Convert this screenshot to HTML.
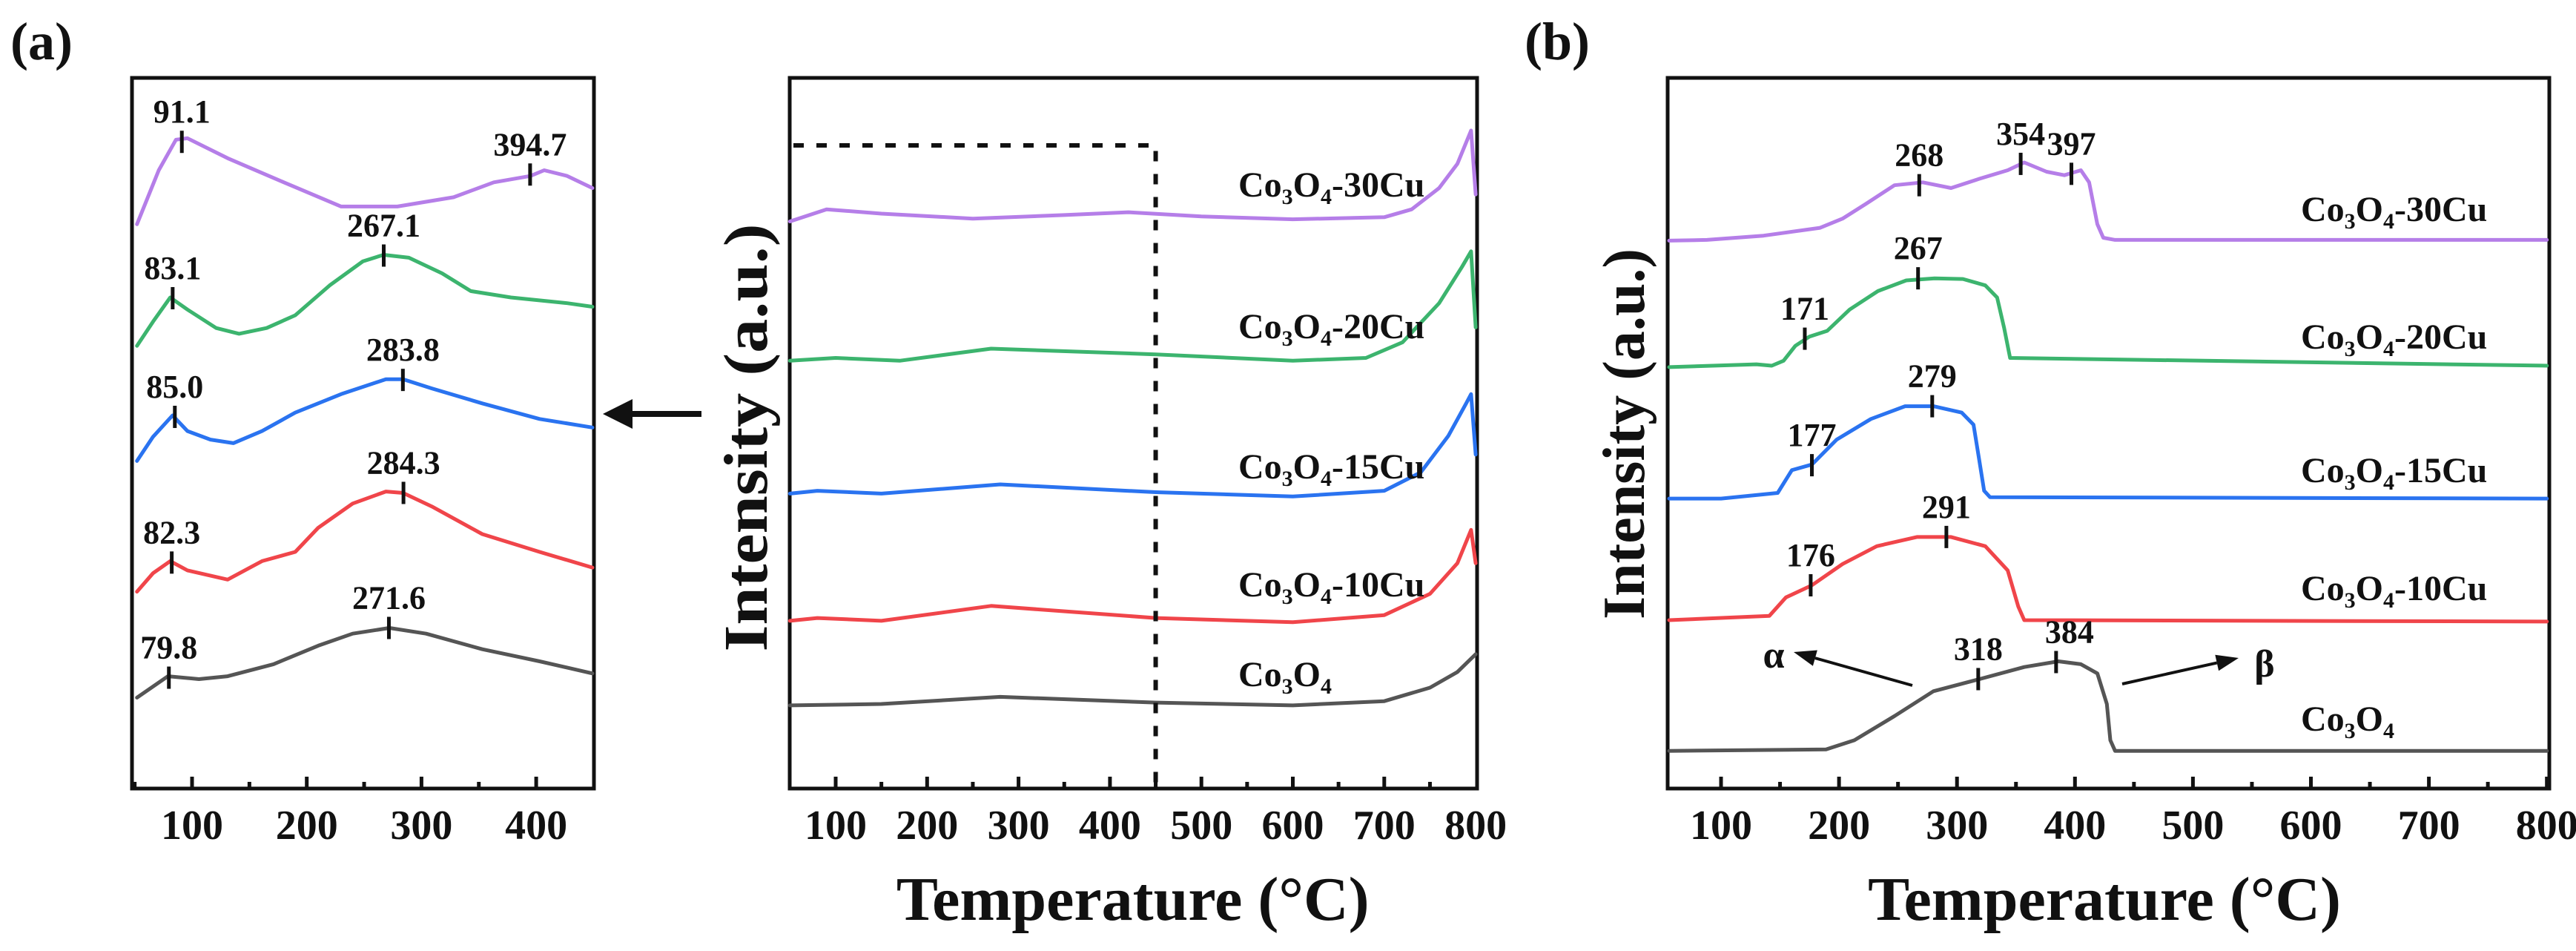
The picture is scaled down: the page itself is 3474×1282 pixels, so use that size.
<!DOCTYPE html>
<html><head><meta charset="utf-8"><style>
html,body{margin:0;padding:0;background:#fff;}
svg{display:block;font-family:"Liberation Serif",serif;font-weight:bold;}
</style></head><body>
<svg id="chart" width="3474" height="1282" viewBox="0 0 3474 1282" xmlns="http://www.w3.org/2000/svg"></svg>
<script>
// ---------- data ----------
const seriesNames = ["Co3O4-30Cu","Co3O4-20Cu","Co3O4-15Cu","Co3O4-10Cu","Co3O4"];
const seriesColors = ["#b57ee8","#3cb46e","#2a73f0","#f0454a","#555555"];
// inset (a-left) 50-450 °C
const insetT = [
 [52,71,86,96,131,180,230,279,328,363,395,407,427,449],
 [52,66,81,96,121,141,165,190,220,249,267,289,318,343,378,427,449],
 [52,66,83,96,116,136,161,190,230,269,284,309,353,403,449],
 [52,66,81,96,131,161,190,210,240,269,284,309,353,403,449],
 [52,79,106,131,171,210,240,272,304,353,403,449]];
const insetI = [
 [79.4,87.0,91.3,91.5,88.7,85.3,81.9,81.9,83.2,85.3,86.2,87.0,86.2,84.5],
 [62.3,65.7,69.1,67.4,64.8,64.0,64.8,66.6,70.8,74.2,75.1,74.7,72.5,70.0,69.1,68.3,67.8],
 [46.1,49.5,52.5,50.3,49.1,48.6,50.3,52.9,55.5,57.6,57.6,56.3,54.2,52.0,50.8],
 [27.7,30.3,32.0,30.7,29.4,32.0,33.3,36.7,40.1,41.8,41.6,39.7,35.8,33.3,31.1],
 [12.8,15.8,15.4,15.8,17.5,20.1,21.8,22.6,21.8,19.6,17.9,16.2]];
const insetPeaks = [[91.1,394.7],[83.1,267.1],[85.0,283.8],[82.3,284.3],[79.8,271.6]];
const insetPeakI = [[91.0,86.4],[69.0,75.0],[52.3,57.5],[31.8,41.6],[15.6,22.6]];
// main (a) 50-800 °C
const mainT = [
 [50,90,150,250,350,420,500,600,700,730,760,780,795,800],
 [50,100,170,270,450,600,680,720,760,785,795,800],
 [50,80,150,280,450,600,700,740,770,790,795,800],
 [50,80,150,270,450,600,700,750,780,795,800],
 [50,150,280,450,600,700,750,780,800]];
const mainI = [
 [79.8,81.5,80.9,80.2,80.7,81.1,80.5,80.1,80.4,81.5,84.5,87.9,92.6,83.6],
 [60.2,60.6,60.2,61.9,61.1,60.2,60.6,62.8,68.3,73.4,75.6,64.9],
 [41.5,41.9,41.5,42.8,41.7,41.1,41.9,44.5,49.6,54.3,55.5,47.0],
 [23.6,24.0,23.6,25.7,24.0,23.4,24.4,27.4,31.7,36.4,31.7],
 [11.7,11.9,12.9,12.1,11.7,12.3,14.2,16.4,18.9]];
// panel (b) 55-800 °C
const bT = [
 [56,88,136,184,203,223,247,271,295,319,343,357,376,391,405,412,419,424,434,800],
 [56,130,143,153,163,175,190,209,233,257,281,305,324,334,340,345,800],
 [56,100,148,160,177,198,227,256,280,304,314,319,323,328,800],
 [56,141,155,177,203,232,266,295,324,343,352,357,800],
 [56,189,213,247,280,319,357,386,405,419,427,430,434,800]];
const bI = [
 [77.1,77.2,77.8,78.9,80.2,82.3,84.9,85.3,84.5,85.8,87.0,88.1,86.8,86.3,87.0,85.3,79.4,77.5,77.2,77.2],
 [59.3,59.7,59.5,60.2,62.3,63.6,64.4,67.4,70.0,71.5,71.8,71.7,70.8,69.1,64.8,60.6,59.5,59.3],
 [40.8,40.8,41.6,44.8,45.6,49.1,52.0,53.8,53.8,52.9,51.2,46.1,41.9,41.0,40.8],
 [23.7,24.3,26.9,28.6,31.6,34.1,35.4,35.4,34.1,30.7,25.6,23.7,23.5],
 [5.3,5.5,6.8,10.2,13.7,15.4,17.1,17.9,17.5,16.2,11.9,6.8,5.3,5.3]];
const bPeaks = [[268,354,397],[171,267],[177,279],[176,291],[318,384]];
const bPeakI = [[84.9,87.9,86.5],[63.3,71.8],[45.5,53.8],[28.6,35.4],[15.4,17.8]];
const insetTicks = [100,200,300,400];
const mainTicks = [100,200,300,400,500,600,700,800];

// ---------- helpers ----------
const NS="http://www.w3.org/2000/svg";
const svg=document.getElementById('chart');
function mk(tag,attrs,parent){const e=document.createElementNS(NS,tag);for(const k in attrs)e.setAttribute(k,attrs[k]);(parent||svg).appendChild(e);return e;}
function scales(p){return {x:t=>p.x0+(t-p.t0)*p.k, y:i=>p.yb-(p.yb-p.yt)*i/100};}
function frame(p,name){
  const r=mk('rect',{x:p.fx0,y:p.yt,width:p.fx1-p.fx0,height:p.yb-p.yt,fill:'none',stroke:'#111','stroke-width':5});
  
  
}
function ticks(p,s,major,minorStep,tmin,tmax,name){
  const g=mk('g',{});
  
  
  for(let t=Math.ceil(tmin/minorStep)*minorStep;t<=tmax;t+=minorStep){
    const isMaj=major.includes(t);const x=s.x(t);
    if(x<=p.fx0+3||x>=p.fx1-3) continue;
    mk('line',{x1:x,x2:x,y1:p.yb,y2:p.yb-(isMaj?16:9),stroke:'#111','stroke-width':5},g);
  }
  major.forEach(t=>{
    const tx=mk('text',{x:s.x(t),y:p.yb+68,'font-size':56,'text-anchor':'middle',fill:'#111'},g);
    tx.textContent=t;
    
    
  });
}
function curve(s,T,I,color,name){
  const d=T.map((t,i)=>(i?'L':'M')+s.x(t).toFixed(1)+','+s.y(I[i]).toFixed(1)).join(' ');
  const pth=mk('path',{d:d,fill:'none',stroke:color,'stroke-width':5,'stroke-linejoin':'round','stroke-linecap':'round'});
  
  
}
function peak(s,t,i,label,name,dx){
  const x=s.x(t),y=s.y(i);
  const l=mk('line',{x1:x,x2:x,y1:y-15,y2:y+15,stroke:'#111','stroke-width':5});
  
  
  const tx=mk('text',{x:x+(dx||0),y:y-26,'font-size':44,'text-anchor':'middle',fill:'#111'});
  tx.textContent=label;
  
  
}
function seriesLabel(x,y,idx,name){
  const tx=mk('text',{x:x,y:y,'font-size':48,fill:'#111'});
  
  
  const parts=seriesNames[idx].split('-');
  tx.innerHTML='Co<tspan font-size="30" dy="10">3</tspan><tspan dy="-10">O</tspan><tspan font-size="30" dy="10">4</tspan>'+(parts[1]?'<tspan dy="-10">-'+parts[1]+'</tspan>':'');
}

// ---------- inset ----------
const pI={x0:259,t0:100,k:1.547,yb:1063,yt:105,fx0:178,fx1:801};
const sI=scales(pI);
frame(pI,'inset');
ticks(pI,sI,insetTicks,50,50,450,'inset');
insetT.forEach((T,k)=>curve(sI,T,insetI[k],seriesColors[k],'inset-curve-'+k));
insetPeaks.forEach((arr,k)=>arr.forEach((t,j)=>peak(sI,t,insetPeakI[k][j],t.toFixed(1),'inset-peak-'+k+'-'+j,0)));

// ---------- main (a) ----------
const pA={x0:1127,t0:100,k:1.233,yb:1063,yt:105,fx0:1065,fx1:1992};
const sA=scales(pA);
frame(pA,'main-a');
ticks(pA,sA,mainTicks,50,50,800,'main-a');
mainT.forEach((T,k)=>curve(sA,T,mainI[k],seriesColors[k],'main-curve-'+k));
const dz=mk('path',{d:`M${pA.fx0+5},196 L${sA.x(450)},196 L${sA.x(450)},${pA.yb}`,fill:'none',stroke:'#111','stroke-width':6,'stroke-dasharray':'14,17'});


[[265,0],[456,1],[645,2],[804,3],[925,4]].forEach(([y,k])=>seriesLabel(1670,y,k,'main-label-'+k));

// ---------- panel (b) ----------
const pB={x0:2321,t0:100,k:1.591,yb:1063,yt:105,fx0:2249,fx1:3438};
const sB=scales(pB);
frame(pB,'panel-b');
ticks(pB,sB,mainTicks,50,55,800,'panel-b');
bT.forEach((T,k)=>curve(sB,T,bI[k],seriesColors[k],'b-curve-'+k));
bPeaks.forEach((arr,k)=>arr.forEach((t,j)=>peak(sB,t,bPeakI[k][j],String(t),'b-peak-'+k+'-'+j,(k==4&&j==1?18:0))));
[[298,0],[470,1],[650,2],[809,3],[985,4]].forEach(([y,k])=>seriesLabel(3103,y,k,'b-label-'+k));

// ---------- annotations ----------
function arrow(x1,y1,x2,y2,name,w,hl,hw){
  const g=mk('g',{});
  
  
  const ang=Math.atan2(y2-y1,x2-x1),c=Math.cos(ang),s=Math.sin(ang);
  const bx=x2-hl*c,by=y2-hl*s;
  mk('line',{x1:x1,y1:y1,x2:bx,y2:by,stroke:'#111','stroke-width':w},g);
  mk('polygon',{points:`${x2},${y2} ${bx-hw*s},${by+hw*c} ${bx+hw*s},${by-hw*c}`,fill:'#111'},g);
}
arrow(946,558,813,558,'zoom-arrow',8,40,20);
arrow(2579,924,2419,879,'alpha-arrow',4,30,11);
arrow(2862,922,3019,887,'beta-arrow',4,30,11);
function txt(x,y,s,fs,name,extra){
  const t=mk('text',Object.assign({x:x,y:y,'font-size':fs,fill:'#111'},extra||{}));
  t.textContent=s;
  
  
  return t;
}
txt(2392,900,'α',52,'alpha-label',{'text-anchor':'middle'});
txt(3054,912,'β',52,'beta-label',{'text-anchor':'middle'});
txt(14,80,'(a)',72,'panel-a-label');
txt(2056,80,'(b)',72,'panel-b-label');
txt(sA.x(425),1240,'Temperature (°C)',84,'main-a-x-title',{'text-anchor':'middle'});
txt(sB.x(425),1240,'Temperature (°C)',84,'panel-b-x-title',{'text-anchor':'middle'});
txt(0,0,'Intensity (a.u.)',84,'main-a-y-title',{'text-anchor':'middle',transform:'translate(1034,590) rotate(-90)',textLength:577,lengthAdjust:'spacingAndGlyphs'});
txt(0,0,'Intensity (a.u.)',80,'panel-b-y-title',{'text-anchor':'middle',transform:'translate(2217,585) rotate(-90)',textLength:500,lengthAdjust:'spacingAndGlyphs'});
</script>
</body></html>
